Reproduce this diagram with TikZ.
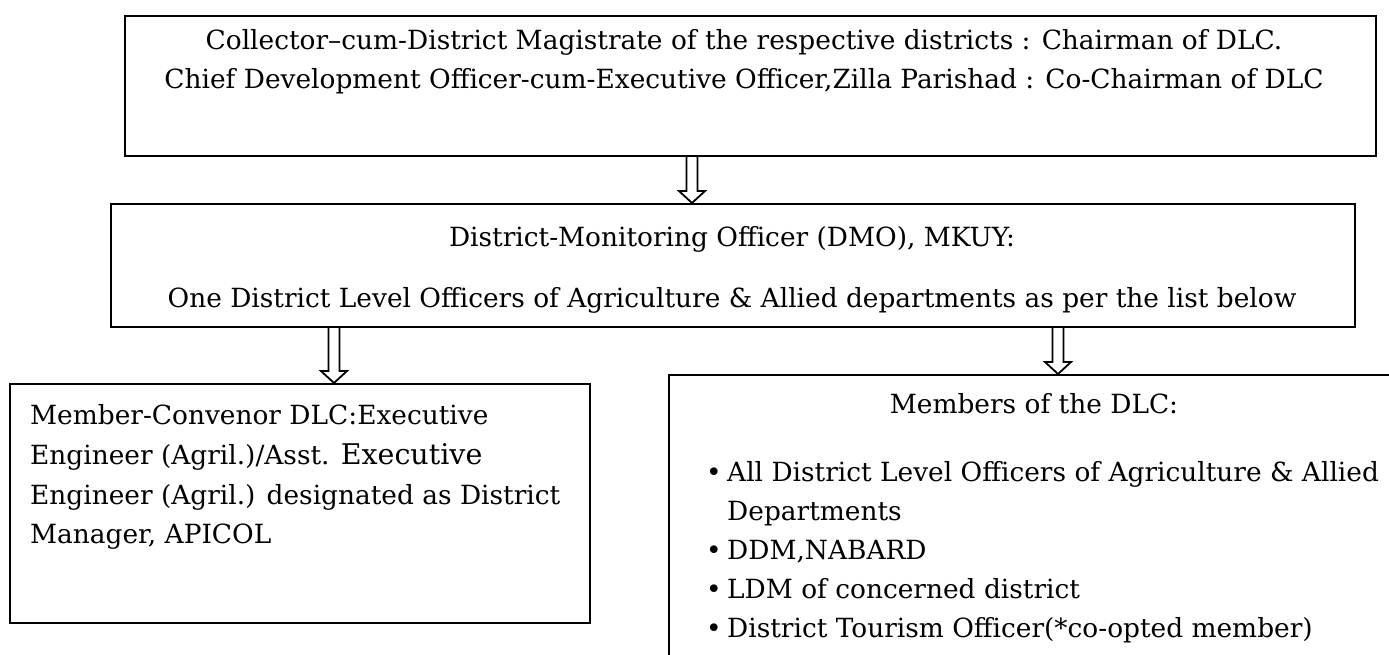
\documentclass[tikz,border=0pt]{standalone}
\usepackage{fontspec}
\setmainfont{DejaVu Serif}
\usetikzlibrary{calc}

\begin{document}
\begin{tikzpicture}[x=1pt, y=-1pt,
    every node/.style={inner sep=0pt, font=\fontsize{26.4}{30}\selectfont},
    box/.style={draw, line width=2pt, anchor=north west},
    txt/.style={anchor=base},
    lefttxt/.style={anchor=base west},
    hollow/.style={line width=1.8pt, to path={let \p1=(\tikztostart), \p2=(\tikztotarget) in
      (\x1-5.5pt,\y1) -- (\x1-5.5pt,\y2+12pt) -- (\x1-13pt,\y2+12pt) -- (\x2,\y2)
      -- (\x1+13pt,\y2+12pt) -- (\x1+5.5pt,\y2+12pt) -- (\x1+5.5pt,\y1)}}]
    \useasboundingbox (0,0) rectangle (1389,655);
    \clip (0,0) rectangle (1389,655);

    % boxes
    \node[box, minimum width=1251pt, minimum height=140pt] (chair) at (124,15) {};
    \node[box, minimum width=1244pt, minimum height=123pt] (dmo) at (110,203) {};
    \node[box, minimum width=580pt, minimum height=239pt] (conv) at (9,383) {};
    \node[box, minimum width=740pt, minimum height=330pt] (memb) at (668,374) {};

    % Chairman / Co-Chairman
    \node[txt] (chair1) at (744,50) {Collector–cum-District Magistrate of the respective districts : Chairman of DLC.};
    \node[txt] (chair2) at (744,89) {Chief Development Officer-cum-Executive Officer,Zilla Parishad : Co-Chairman of DLC};

    % DMO
    \node[txt] (dmo1) at (732,246) {District-Monitoring Officer (DMO), MKUY:};
    \node[txt] (dmo2) at (732,307) {One District Level Officers of Agriculture \& Allied departments as per the list below};

    % Member-Convenor
    \node[lefttxt] (conv1) at (30,424) {Member-Convenor DLC:Executive};
    \node[lefttxt] (conv2) at (30,464) {Engineer (Agril.)/Asst. {\fontsize{28.5}{32}\selectfont Executive}};
    \node[lefttxt] (conv3) at (30,504) {Engineer (Agril.) designated as District};
    \node[lefttxt] (conv4) at (30,543) {Manager, APICOL};

    % Members of the DLC
    \node[txt] (memb0) at (1034,413) {Members of the DLC:};
    \node[lefttxt] (b1) at (706,481) {\textbullet};
    \node[lefttxt] (memb1) at (727,481) {All District Level Officers of Agriculture \& Allied};
    \node[lefttxt] (memb1b) at (727,520) {Departments};
    \node[lefttxt] (b2) at (706,559) {\textbullet};
    \node[lefttxt] (memb2) at (727,559) {DDM,NABARD};
    \node[lefttxt] (b3) at (706,598) {\textbullet};
    \node[lefttxt] (memb3) at (727,598) {LDM of concerned district};
    \node[lefttxt] (b4) at (706,637) {\textbullet};
    \node[lefttxt] (memb4) at (727,637) {District Tourism Officer(*co-opted member)};

    % arrows
    \coordinate (a1) at (692,0);
    \coordinate (a2) at (334,0);
    \coordinate (a3) at (1058,0);
    \draw[hollow] (chair.south -| a1) to (dmo.north -| a1);
    \draw[hollow] (dmo.south -| a2) to (conv.north -| a2);
    \draw[hollow] (dmo.south -| a3) to (memb.north -| a3);
  \end{tikzpicture}
\end{document}
